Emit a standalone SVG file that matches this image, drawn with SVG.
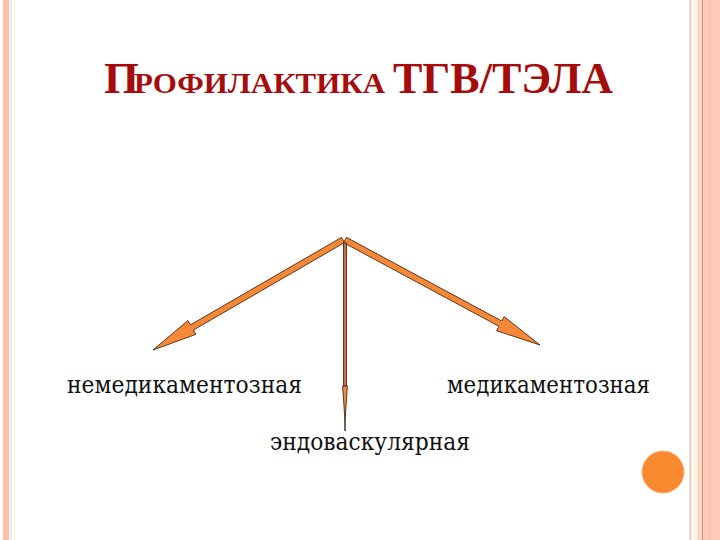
<svg xmlns="http://www.w3.org/2000/svg" width="720" height="540" viewBox="0 0 720 540">
<defs>
<style>
.title{font-family:"Liberation Serif","DejaVu Serif","Times New Roman",serif;font-weight:bold;fill:#A50D0D}
.lbl{font-family:"DejaVu Serif","Liberation Serif",serif;font-size:25px;fill:#111111}
.arrow{fill:#F7883A;stroke:#4a2a10;stroke-width:0.9;stroke-linejoin:miter}
</style>
</defs>
<rect x="0" y="0" width="720" height="540" fill="#ffffff"/>
<g id="frame">
<rect x="3" y="0" width="6" height="540" fill="#FCC2A8"/>
<rect x="10.5" y="0" width="1" height="540" fill="#EBD0CC"/>
<rect x="14" y="0" width="1" height="540" fill="#FAF1D6"/>
<rect x="689.5" y="0" width="1.5" height="540" fill="#E6C6B4"/>
<rect x="691" y="0" width="6" height="540" fill="#FFF5E6"/>
<rect x="697.5" y="0" width="1.5" height="540" fill="#F3CDBC"/>
<rect x="699" y="0" width="3" height="540" fill="#FDD6C6"/>
<rect x="702" y="0" width="1.2" height="540" fill="#EE8466"/>
<rect x="703.2" y="0" width="16.8" height="540" fill="#FECBB8"/>
<rect x="708" y="0" width="3" height="540" fill="#FBC3AE"/>
</g>
<g id="title">
<text class="title" x="104" y="93" font-size="45">П</text>
<text class="title" x="134" y="93" font-size="30" textLength="251" lengthAdjust="spacingAndGlyphs">РОФИЛАКТИКА</text>
<text class="title" x="393" y="93" font-size="45" textLength="220" lengthAdjust="spacingAndGlyphs">ТГВ/ТЭЛА</text>
</g>
<g id="connectors">
<polygon class="arrow" points="341.5,237.4 190.45,324.85 187.94,320.53 153,350 195.96,334.37 193.45,330.05 344.5,242.6"/>
<polygon class="arrow" points="346.42,237.36 501.8,321.03 504.17,316.63 540,345 496.59,330.71 498.96,326.31 343.58,242.64"/>
<rect x="343.5" y="243" width="3" height="143" fill="#CF6E40" stroke="#3a2010" stroke-width="0.8"/>
<polygon points="342.6,386 347.4,386 345.4,415 345,431 344.6,415" fill="#F7883A" stroke="#2a1a10" stroke-width="0.8"/>
</g>
<g id="node-nemed">
<text class="lbl" x="67" y="393" textLength="235" lengthAdjust="spacingAndGlyphs">немедикаментозная</text>
</g>
<g id="node-med">
<text class="lbl" x="447" y="393" textLength="203" lengthAdjust="spacingAndGlyphs">медикаментозная</text>
</g>
<g id="node-endo">
<text class="lbl" x="270" y="450" textLength="200" lengthAdjust="spacingAndGlyphs">эндоваскулярная</text>
</g>
<g id="dot">
<circle cx="663" cy="472" r="21" fill="#F7892F" stroke="#FBB27A" stroke-width="1"/>
</g>
</svg>
